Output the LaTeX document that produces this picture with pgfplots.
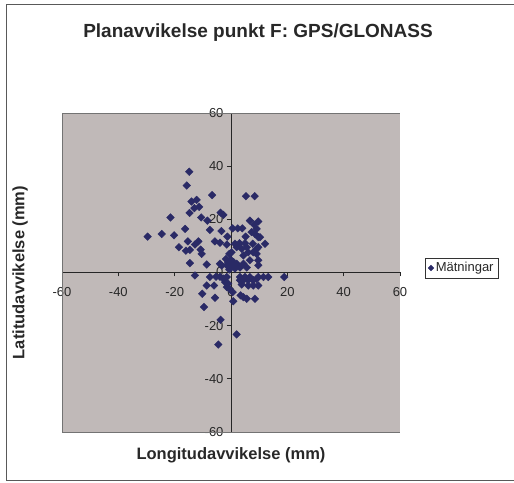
\documentclass[border=0pt]{standalone}
\usepackage{pgfplots}
\pgfplotsset{compat=1.18}
\usepackage{fontspec}
\setmainfont{Liberation Sans}
\definecolor{plotbg}{RGB}{192,185,184}
\definecolor{mk}{RGB}{42,42,102}
\definecolor{txt}{RGB}{40,40,40}
\begin{document}
\begin{tikzpicture}[x=1pt,y=1pt]
\useasboundingbox (0,0) rectangle (514,482);
\draw[black!65, line width=0.9pt] (518,478) -- (6,478) -- (6,2) -- (518,2);
\begin{axis}[
  at={(62pt,50pt)}, anchor=south west,
  scale only axis, width=338pt, height=319pt,
  xmin=-60, xmax=60, ymin=-60, ymax=60,
  axis lines=center, axis line style={-, black!85, line width=0.8pt},
  xtick={-60,-40,...,60}, ytick={-60,-40,...,60},
  hide obscured x ticks=false, hide obscured y ticks=false,
  tick align=outside, major tick length=4pt, tick style={black!85, line width=0.8pt},
  axis background/.style={fill=plotbg},
  /pgf/number format/assume math mode=true,
  ticklabel style={font=\fontsize{13}{15}\selectfont, text=txt},
  xticklabel style={yshift=-7pt},
  title={Planavvikelse punkt F: GPS/GLONASS},
  title style={at={(axis description cs:0.58,1)}, anchor=center, yshift=74pt, text=txt, font=\fontsize{19}{22}\selectfont\bfseries},
  xlabel={Longitudavvikelse (mm)},
  xlabel style={at={(axis description cs:0.5,0)}, anchor=center, yshift=-23pt, text=txt, font=\fontsize{16.5}{19}\selectfont\bfseries},
  ylabel={Latitudavvikelse (mm)},
  ylabel style={at={(axis description cs:-0.124,0.5)}, anchor=center, rotate=90, text=txt, font=\fontsize{16.5}{19}\selectfont\bfseries},
  legend style={at={(axis description cs:1.183,0.514)}, anchor=center, draw=black!80, fill=white, text=txt, font=\fontsize{13}{15}\selectfont, inner sep=2.5pt, row sep=0pt},
  legend image post style={mark size=2pt},
  legend cell align=left,
]
\draw[gray!90!black, line width=0.8pt] (rel axis cs:0,0) rectangle (rel axis cs:1,1);
\addplot[only marks, mark=square*, mark size=2.7pt, mark options={rotate=45, fill=mk, draw=mk}] table {
x y
-14.8 37.9
-15.7 32.7
-14.0 26.7
-12.2 27.3
-6.7 29.1
5.3 28.7
8.4 28.7
-14.7 22.4
-13.0 24.2
-11.3 24.7
-21.5 20.7
-10.6 20.7
-8.4 19.5
-3.7 22.5
-2.7 21.7
-29.6 13.5
-24.6 14.5
-20.2 14.0
-16.3 16.4
-7.5 16.0
-3.4 15.6
-1.3 13.5
-18.5 9.5
-15.3 11.7
-11.6 11.7
-12.8 10.5
-16.0 8.2
-14.6 8.5
-10.8 8.6
-10.4 7.0
-5.7 11.7
-3.9 11.2
-14.6 3.5
-8.6 3.0
-3.3 2.6
-12.8 -1.1
-7.5 -1.7
0.6 16.6
2.4 16.6
4.0 16.6
6.7 19.5
9.7 19.2
8.2 18.0
7.3 15.2
8.5 14.5
9.7 13.3
9.1 16.4
10.3 13.3
12.1 10.8
5.2 13.5
-1.5 10.5
1.4 10.8
3.0 11.0
5.0 11.0
7.7 10.8
5.6 9.5
3.8 8.9
2.0 9.5
9.1 8.9
9.7 9.5
0.2 7.6
-0.6 7.0
6.1 7.6
7.9 7.6
4.4 6.4
9.1 7.0
6.7 4.6
9.7 4.6
9.7 2.7
-3.9 3.3
-1.8 5.1
-1.0 3.9
-0.1 4.8
0.9 3.9
-1.5 2.7
0.3 2.7
2.0 3.3
3.2 1.9
4.4 3.3
5.6 1.9
1.4 1.5
-0.6 1.1
-5.3 -1.6
-3.9 -1.6
-2.7 -2.3
-1.5 -1.7
-2.1 -3.6
-1.0 -4.2
3.2 -1.7
5.0 -1.7
6.7 -1.7
9.7 -1.7
11.5 -1.7
13.2 -1.7
18.9 -1.7
9.1 -2.4
3.2 -2.9
4.4 -2.9
6.1 -2.9
7.9 -2.9
3.8 -4.5
6.1 -4.9
7.9 -4.9
9.7 -4.9
-8.6 -4.9
-6.0 -4.9
-1.5 -5.5
-0.6 -6.1
0.6 -7.4
3.4 -8.6
4.4 -9.3
5.6 -9.9
8.5 -9.9
-5.7 -9.5
0.8 -10.8
-9.6 -13.0
-10.2 -8.0
-3.7 -17.8
2.0 -23.3
-4.5 -27.1
};
\addlegendentry{Mätningar}
\end{axis}
\end{tikzpicture}
\end{document}
